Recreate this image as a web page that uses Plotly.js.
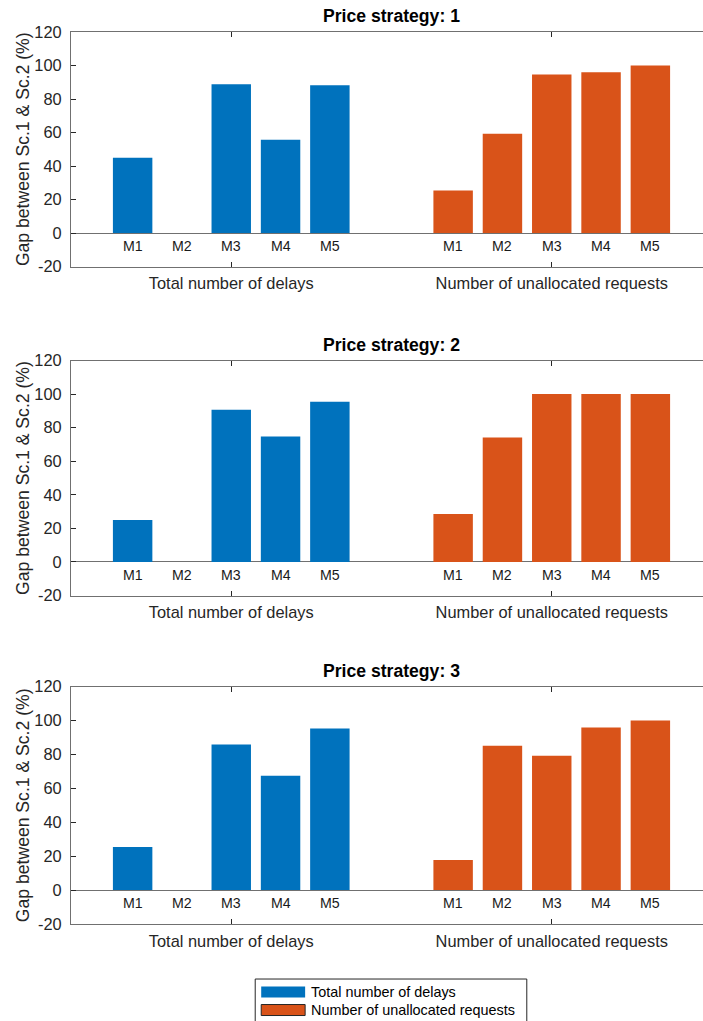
<!DOCTYPE html>
<html>
<head>
<meta charset="utf-8">
<script src="https://cdn.plot.ly/plotly-3.0.1.min.js"></script>
<style>
html, body { margin: 0; padding: 0; overflow: hidden; background: #fff; }
#chart { width: 715px; height: 1040px; }
</style>
</head>
<body>
<div id="chart"></div>
<script>
// ---- data ----
const groups = ["Total number of delays", "Number of unallocated requests"];
const methods = ["M1", "M2", "M3", "M4", "M5"];
const strategies = ["Price strategy: 1", "Price strategy: 2", "Price strategy: 3"];
const delays1 = [45, 0, 88.8, 55.6, 88.2];
const unalloc1 = [25.4, 59.2, 94.7, 95.9, 100];
const delays2 = [25, 0, 90.7, 74.8, 95.5];
const unalloc2 = [28.6, 74.2, 100, 100, 100];
const delays3 = [25.4, 0, 85.8, 67.5, 95.3];
const unalloc3 = [17.8, 85.2, 79.3, 95.9, 100];
const yTicks = [-20, 0, 20, 40, 60, 80, 100, 120];
const yTickText = ["-20", "0", "20", "40", "60", "80", "100", "120"];
const colors = ["#0072BD", "#D95319"];

const seriesBySubplot = [[delays1, unalloc1], [delays2, unalloc2], [delays3, unalloc3]];

// ---- layout constants ----
const W = 715, H = 1040;
const ML = 70.5, MR = W - 712.5, MT = 32.3, MB = H - 924;
const domains = [[0.7371, 1], [0.3682, 0.6317], [0, 0.2661]];
const groupWidth = Math.min(0.8, methods.length / (methods.length + 1.5));
const step = groupWidth / methods.length;
const barW = step * 0.8;
const font = "Liberation Sans, Arial, Helvetica, sans-serif";

const data = [];
const annotations = [];
const layout = {
  width: W, height: H,
  margin: {l: ML, r: MR, t: MT, b: MB},
  paper_bgcolor: "#fff", plot_bgcolor: "#fff",
  showlegend: false,
  barmode: "overlay",
  font: {family: font, color: "#262626"},
  annotations: annotations,
  shapes: []
};

seriesBySubplot.forEach((series, s) => {
  const xa = s === 0 ? "x" : "x" + (s + 1);
  const ya = s === 0 ? "y" : "y" + (s + 1);
  const xkey = s === 0 ? "xaxis" : "xaxis" + (s + 1);
  const ykey = s === 0 ? "yaxis" : "yaxis" + (s + 1);
  series.forEach((vals, g) => {
    const xs = methods.map((m, i) => (g + 1) + (i - (methods.length - 1) / 2) * step);
    data.push({
      type: "bar", name: groups[g], x: xs, y: vals, width: barW,
      marker: {color: colors[g], line: {width: 0}},
      xaxis: xa, yaxis: ya, hoverinfo: "skip"
    });
    methods.forEach((m, i) => {
      annotations.push({
        xref: xa, yref: ya, x: xs[i], y: 0, text: m, showarrow: false,
        yanchor: "top", xanchor: "center", yshift: -3,
        font: {family: font, size: 14.2, color: "#1a1a1a"}
      });
    });
  });
  layout[xkey] = {
    domain: [0, 1], anchor: ya, range: [0.5, 2.5],
    tickvals: [1, 2], ticktext: groups,
    ticks: "inside", ticklen: 5, tickcolor: "#262626", tickwidth: 1,
    showline: true, linecolor: "#707070", linewidth: 1, mirror: "ticks",
    showgrid: false, zeroline: false, fixedrange: true,
    tickfont: {family: font, size: 16.4, color: "#262626"},
    ticklabelstandoff: 2
  };
  layout[ykey] = {
    domain: domains[s], anchor: xa, range: [-20, 120],
    tickvals: yTicks, ticktext: yTickText,
    ticks: "inside", ticklen: 5, tickcolor: "#262626", tickwidth: 1,
    showline: true, linecolor: "#707070", linewidth: 1, mirror: "ticks",
    showgrid: false, zeroline: true, zerolinecolor: "#707070", zerolinewidth: 1,
    fixedrange: true,
    tickfont: {family: font, size: 16.4, color: "#262626"},
    ticklabelstandoff: 5,
    title: {text: "Gap between Sc.1 & Sc.2 (%)", font: {family: font, size: 17.6, color: "#262626"}, standoff: 0}
  };
  annotations.push({
    xref: "paper", yref: "paper", x: 0.5, y: domains[s][1],
    text: "<b>" + strategies[s] + "</b>", showarrow: false,
    xanchor: "center", yanchor: "bottom", yshift: 4,
    font: {family: font, size: 17.6, color: "#000"}
  });
});

// ---- manual legend (paper coordinates) ----
const px2x = p => (p - ML) / (W - ML - MR);
const plotH = H - MT - MB;
const py2y = p => (H - MB - p) / plotH;
layout.shapes.push({
  type: "rect", xref: "paper", yref: "paper",
  x0: px2x(255), x1: px2x(527), y0: py2y(1028), y1: py2y(979),
  line: {color: "#262626", width: 1}, fillcolor: "#fff"
});
groups.forEach((gname, g) => {
  const cy = 992 + g * 18;
  layout.shapes.push({
    type: "rect", xref: "paper", yref: "paper",
    x0: px2x(261), x1: px2x(305), y0: py2y(cy + 5.5), y1: py2y(cy - 5.5),
    line: {color: g === 1 ? "#262626" : colors[g], width: g === 1 ? 1 : 0}, fillcolor: colors[g]
  });
  annotations.push({
    xref: "paper", yref: "paper", x: px2x(309), y: py2y(cy),
    text: gname, showarrow: false, xanchor: "left", yanchor: "middle",
    font: {family: font, size: 14.4, color: "#000"}
  });
});

Plotly.newPlot("chart", data, layout, {staticPlot: true, displayModeBar: false});
</script>
</body>
</html>
